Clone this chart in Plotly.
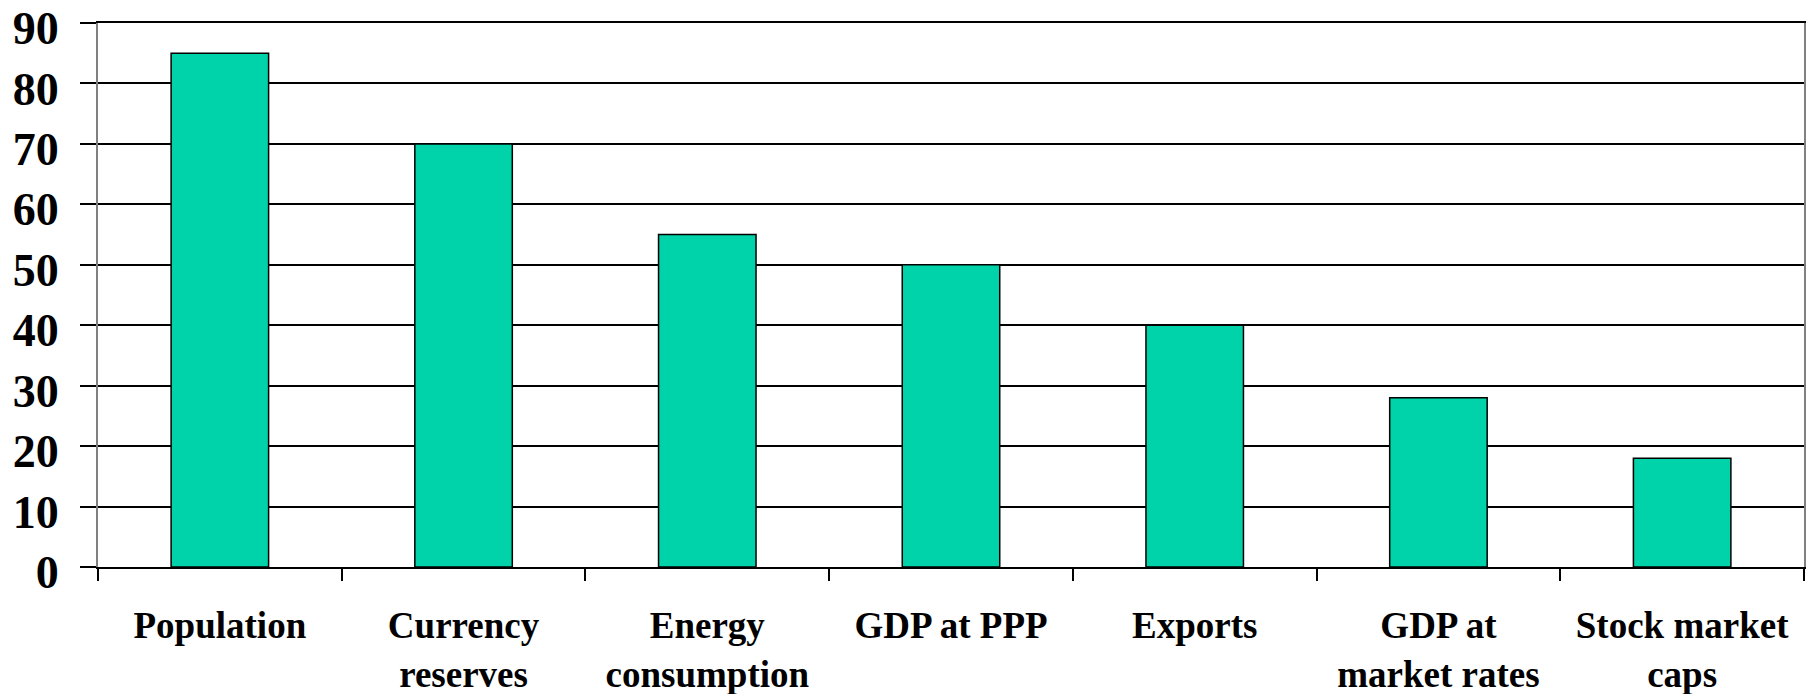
import plotly.graph_objects as go

categories = ["Population", "Currency<br>reserves", "Energy<br>consumption", "GDP at PPP",
              "Exports", "GDP at<br>market rates", "Stock market<br>caps"]
values = [85, 70, 55, 50, 40, 28, 18]
y_ticks = [0, 10, 20, 30, 40, 50, 60, 70, 80, 90]

font_family = "Liberation Serif, Times New Roman, serif"

fig = go.Figure()
fig.add_trace(go.Bar(
    x=categories, y=values,
    marker=dict(color="#00D2AA", line=dict(color="black", width=1.5)),
    width=0.4,
))

fig.update_layout(
    width=1817, height=694,
    margin=dict(l=98, r=13, t=23, b=127),
    plot_bgcolor="white", paper_bgcolor="white",
    showlegend=False,
    font=dict(family=font_family, color="black"),
)
fig.update_xaxes(
    type="category", automargin=False,
    showgrid=False,
    showline=True, linecolor="black", linewidth=2, mirror=True,
    ticks="outside", tickson="boundaries", ticklen=12, tickwidth=1.5, tickcolor="black",
    tickfont=dict(size=37, family=font_family, weight="bold", color="black"),
    ticklabelstandoff=25, ticklabeloverflow="allow",
)
fig.update_yaxes(
    range=[0, 90], tickvals=y_ticks, ticktext=[str(v) for v in y_ticks],
    automargin=False,
    showgrid=True, gridcolor="black", gridwidth=2,
    zeroline=False,
    showline=True, linecolor="#808080", linewidth=2, mirror=True,
    ticks="outside", ticklen=16, tickwidth=2, tickcolor="black",
    tickfont=dict(size=46, family=font_family, weight="bold", color="black"),
    ticklabelstandoff=12, ticklabeloverflow="allow", ticklabelshift=5,
)

fig.write_html("out.html", config={"displayModeBar": False},
               post_script="document.body.style.margin='0';")
